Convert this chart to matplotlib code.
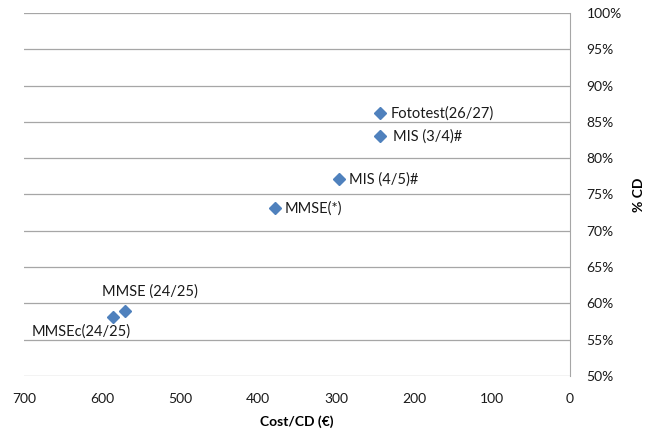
"""
Cost per detected case vs % CD scatter
"""

import matplotlib.pyplot as plt
from matplotlib.ticker import PercentFormatter

# Data
labels = ['Fototest(26/27)', 'MIS (3/4)#', 'MIS (4/5)#', 'MMSE(*)',
          'MMSE (24/25)', 'MMSEc(24/25)']
cost = [243, 243, 296, 378, 571, 586]
pct_cd = [86.2, 83.0, 77.1, 73.1, 59.0, 58.1]

# label offsets in points (dx, dy) and alignment
offsets = [(7, 0, 'left'), (9, 0, 'left'), (7, 0, 'left'), (7, 0, 'left'),
           (18, 14, 'center'), (-23, -10, 'center')]

plt.rcParams['font.family'] = ['Lato', 'DejaVu Sans']

fig = plt.figure(figsize=(6.51, 4.40), dpi=100)
ax = fig.add_axes([0.0369, 0.1455, 0.8387, 0.825])

ax.plot(cost, pct_cd, linestyle='none', marker='D', markersize=6.5,
        color='#4F81BD', zorder=3)

for name, x, y, (dx, dy, ha) in zip(labels, cost, pct_cd, offsets):
    ax.annotate(name, (x, y), xytext=(dx, dy), textcoords='offset points',
                ha=ha, va='center', fontsize=10.5, color='#1a1a1a')

ax.set_xlim(700, 0)
ax.set_ylim(50, 100)
ax.set_xticks(range(700, -1, -100))
ax.set_yticks(range(50, 101, 5))
ax.yaxis.set_major_formatter(PercentFormatter(decimals=0))
ax.yaxis.tick_right()
ax.yaxis.set_label_position('right')

ax.grid(axis='y', color='#A6A6A6', linewidth=0.9)
ax.set_axisbelow(True)
for side in ['left', 'top', 'bottom']:
    ax.spines[side].set_visible(False)
ax.spines['right'].set_color('#A6A6A6')
ax.tick_params(length=0, labelsize=10, colors='#1a1a1a')
ax.tick_params(axis='x', pad=12)
ax.tick_params(axis='y', pad=12)

ax.set_xlabel('Cost/CD (€)', fontweight='bold', fontsize=10, labelpad=8)
ax.set_ylabel('% CD', fontweight='bold', fontsize=10, labelpad=8)

fig.savefig('out.png', dpi=100)
